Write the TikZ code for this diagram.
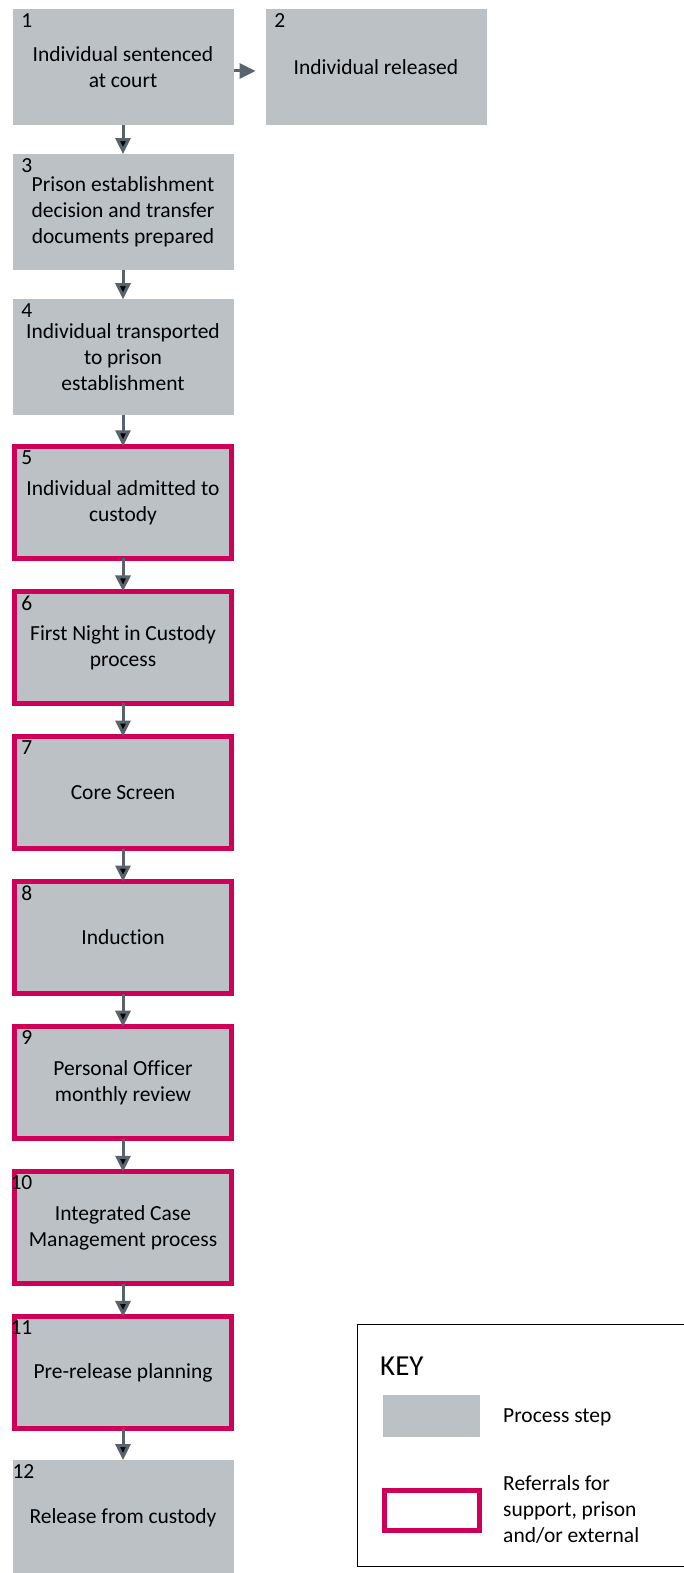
\documentclass[tikz,border=0pt]{standalone}
\usepackage{fontspec}
\setmainfont{Carlito}[Ligatures=NoCommon]
\usetikzlibrary{positioning,arrows.meta}
\definecolor{stepgrey}{HTML}{BCC1C6}
\definecolor{referralred}{HTML}{CE0058}
\definecolor{arrowgrey}{HTML}{59636D}

\begin{document}
\begin{tikzpicture}%
		[x=1pt, y=-1pt,
		>={Triangle[length=16pt,width=15pt]},
		node distance=145.1pt,
		on grid,
		font=\fontsize{21.5}{26}\selectfont
		]
		\tikzstyle{stepbox}=[fill=stepgrey, minimum width=221pt, minimum height=116pt, inner sep=0pt, outer sep=0pt, align=center]
		\tikzstyle{refbox}=[stepbox, draw=referralred, line width=5pt, minimum width=217pt, minimum height=112pt]
		\tikzstyle{num}=[anchor=north east, inner sep=0pt]
		\tikzstyle{link}=[->, draw=arrowgrey, line width=3pt]
		\useasboundingbox (0,0) rectangle (684,1573);
		
		% process steps
		\node[stepbox] (s1) at (123,67)       {Individual sentenced\\at court};
		\node[stepbox] (s2) [right=253pt of s1] {Individual released};
		\node[stepbox] (s3) [below=of s1]     {Prison establishment\\decision and transfer\\documents prepared};
		\node[stepbox] (s4) [below=of s3]     {Individual transported\\to prison\\establishment};
		\node[refbox]  (s5) [below=of s4]     {Individual admitted to\\custody};
		\node[refbox]  (s6) [below=of s5]     {First Night in Custody\\process};
		\node[refbox]  (s7) [below=of s6]     {Core Screen};
		\node[refbox]  (s8) [below=of s7]     {Induction};
		\node[refbox]  (s9) [below=of s8]     {Personal Officer\\monthly review};
		\node[refbox]  (s10) [below=of s9]    {Integrated Case\\Management process};
		\node[refbox]  (s11) [below=of s10]   {Pre-release planning};
		\node[stepbox] (s12) [below=of s11]   {Release from custody};
		
		% step numbers
		\foreach \n/\dx in {1/20,2/20,3/20,4/20,5/18,6/18,7/18,8/18,9/18,10/18,11/18,12/22}
			\node[num] (n\n) at ([xshift=\dx pt,yshift=-4pt]s\n.north west) {\n};
		
		\path[link]
		(s1) edge (s3)
		(s3) edge (s4)
		(s4) edge (s5)
		(s5) edge (s6)
		(s6) edge (s7)
		(s7) edge (s8)
		(s8) edge (s9)
		(s9) edge (s10)
		(s10) edge (s11)
		(s11) edge (s12)
		;
		\draw[link, shorten >=10pt] ([yshift=-4pt]s1.east) -- ([yshift=-4pt]s2.west);
		
		% key
		\node[draw=black, line width=0.8pt, minimum width=330pt, minimum height=242pt] (key) at (522,1445) {};
		\node[anchor=west, font=\fontsize{29}{32}\selectfont, inner sep=0pt] (keytitle) at (380,1366) {KEY};
		\node[fill=stepgrey, minimum width=97pt, minimum height=42pt] (keystep) at (431,1416) {};
		\node[draw=referralred, line width=5pt, fill=white, minimum width=95pt, minimum height=40pt] (keyref) at (432,1510) {};
		\node[anchor=west, inner sep=0pt] (keysteptext) at (503,1417) {Process step};
		\node[anchor=west, inner sep=0pt, align=left] (keyreftext) at (503,1509) {Referrals for\\support, prison\\and/or external};
		\end{tikzpicture}
\end{document}
